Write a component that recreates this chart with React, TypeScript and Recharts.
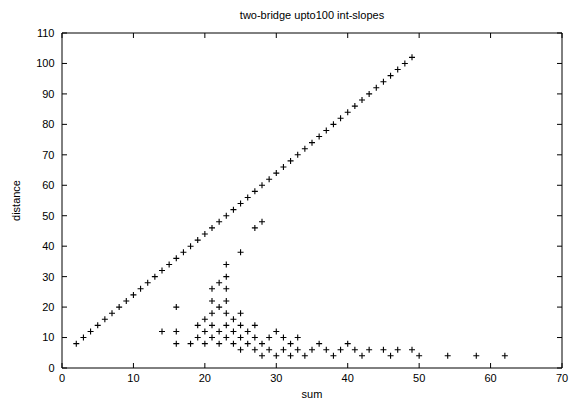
import { Scatter, ScatterChart, XAxis, YAxis } from "recharts";

const title = "two-bridge upto100 int-slopes";

const diagSum = [
  2, 3, 4, 5, 6, 7, 8, 9, 10, 11, 12, 13, 14, 15, 16, 17, 18, 19, 20, 21, 22, 23, 24, 25,
  26, 27, 28, 29, 30, 31, 32, 33, 34, 35, 36, 37, 38, 39, 40, 41, 42, 43, 44, 45, 46, 47, 48, 49,
];
const diagDistance = [
  8, 10, 12, 14, 16, 18, 20, 22, 24, 26, 28, 30, 32, 34, 36, 38, 40, 42, 44, 46, 48, 50, 52, 54,
  56, 58, 60, 62, 64, 66, 68, 70, 72, 74, 76, 78, 80, 82, 84, 86, 88, 90, 92, 94, 96, 98, 100, 102,
];

const lowSum = [
  14, 16, 16, 16, 18, 19, 19, 20, 20, 20, 21, 21, 21, 21, 21, 22, 22, 22, 22, 23, 23, 23, 23, 23,
  23, 23, 24, 24, 24, 25, 25, 25, 25, 25, 26, 26, 27, 27, 27, 27, 28, 28, 28, 29, 29, 30, 30, 31,
  31, 32, 32, 33, 33, 34, 35, 36, 37, 38, 39, 40, 41, 42, 43, 45, 46, 47, 49, 50, 54, 58, 62,
];
const lowDistance = [
  12, 8, 12, 20, 8, 10, 14, 8, 12, 16, 10, 14, 18, 22, 26, 8, 12, 20, 28, 10, 14, 18, 22, 26,
  30, 34, 8, 12, 16, 6, 10, 14, 18, 38, 8, 12, 6, 10, 14, 46, 4, 8, 48, 6, 10, 4, 12, 6,
  10, 4, 8, 6, 10, 4, 6, 8, 6, 4, 6, 8, 6, 4, 6, 6, 4, 6, 6, 4, 4, 4, 4,
];

const xTicks = [0, 10, 20, 30, 40, 50, 60, 70];
const yTicks = [0, 10, 20, 30, 40, 50, 60, 70, 80, 90, 100, 110];

const points = [
  ...diagSum.map((s, i) => ({ sum: s, distance: diagDistance[i] })),
  ...lowSum.map((s, i) => ({ sum: s, distance: lowDistance[i] })),
];

const font = { fontFamily: "Liberation Sans, Arial, sans-serif", fontSize: 11, fill: "#000" };

function Cross(props: any) {
  const { cx, cy } = props;
  if (cx == null || cy == null) return <g />;
  return (
    <path
      d={`M${cx - 3},${cy}h6M${cx},${cy - 3}v6`}
      stroke="#000"
      strokeWidth={1.1}
      fill="none"
    />
  );
}

// invisible series so the mirrored (top/right) axes get drawn
function Nothing() {
  return <g />;
}

export default function App() {
  return (
    <div style={{ position: "absolute", left: 0, top: 0, width: 573, height: 399, background: "#fff" }}>
      <div
        style={{
          position: "absolute",
          left: 62,
          width: 500,
          top: 9,
          textAlign: "center",
          fontFamily: font.fontFamily,
          fontSize: 11,
          lineHeight: "13px",
          color: "#000",
        }}
      >
        {title}
      </div>
      <ScatterChart
        width={573}
        height={399}
        margin={{ top: 32, right: 10, bottom: 0, left: 0 }}
        style={{ fontFamily: font.fontFamily }}
      >
        <XAxis
          xAxisId="bottom"
          type="number"
          dataKey="sum"
          domain={[0, 70]}
          ticks={xTicks}
          interval={0}
          height={31}
          tickSize={-5}
          tickMargin={11}
          stroke="#000"
          tick={font}
          label={{ value: "sum", position: "insideBottom", offset: 1, ...font }}
        />
        <XAxis
          xAxisId="top"
          orientation="top"
          type="number"
          dataKey="sum"
          domain={[0, 70]}
          ticks={xTicks}
          interval={0}
          height={1}
          tickSize={-5}
          tick={{ fill: "none", fontSize: 1 }}
          stroke="#000"
        />
        <YAxis
          yAxisId="left"
          type="number"
          dataKey="distance"
          domain={[0, 110]}
          ticks={yTicks}
          interval={0}
          width={62}
          tickSize={-5}
          tickMargin={12.5}
          stroke="#000"
          tick={font}
          label={{
            content: (p: any) => {
              const vb = p.viewBox || {};
              const cx = 16;
              const cy = (vb.y ?? 33) + (vb.height ?? 335) / 2;
              return (
                <text
                  x={cx}
                  y={cy}
                  transform={`rotate(-90 ${cx} ${cy})`}
                  textAnchor="middle"
                  dominantBaseline="central"
                  {...font}
                >
                  distance
                </text>
              );
            },
          }}
        />
        <YAxis
          yAxisId="right"
          orientation="right"
          type="number"
          dataKey="distance"
          domain={[0, 110]}
          ticks={yTicks}
          interval={0}
          width={1}
          tickSize={-5}
          tick={{ fill: "none", fontSize: 1 }}
          stroke="#000"
        />
        <Scatter
          data={points}
          xAxisId="top"
          yAxisId="right"
          shape={Nothing}
          isAnimationActive={false}
        />
        <Scatter
          data={points}
          xAxisId="bottom"
          yAxisId="left"
          shape={Cross}
          isAnimationActive={false}
        />
      </ScatterChart>
    </div>
  );
}
